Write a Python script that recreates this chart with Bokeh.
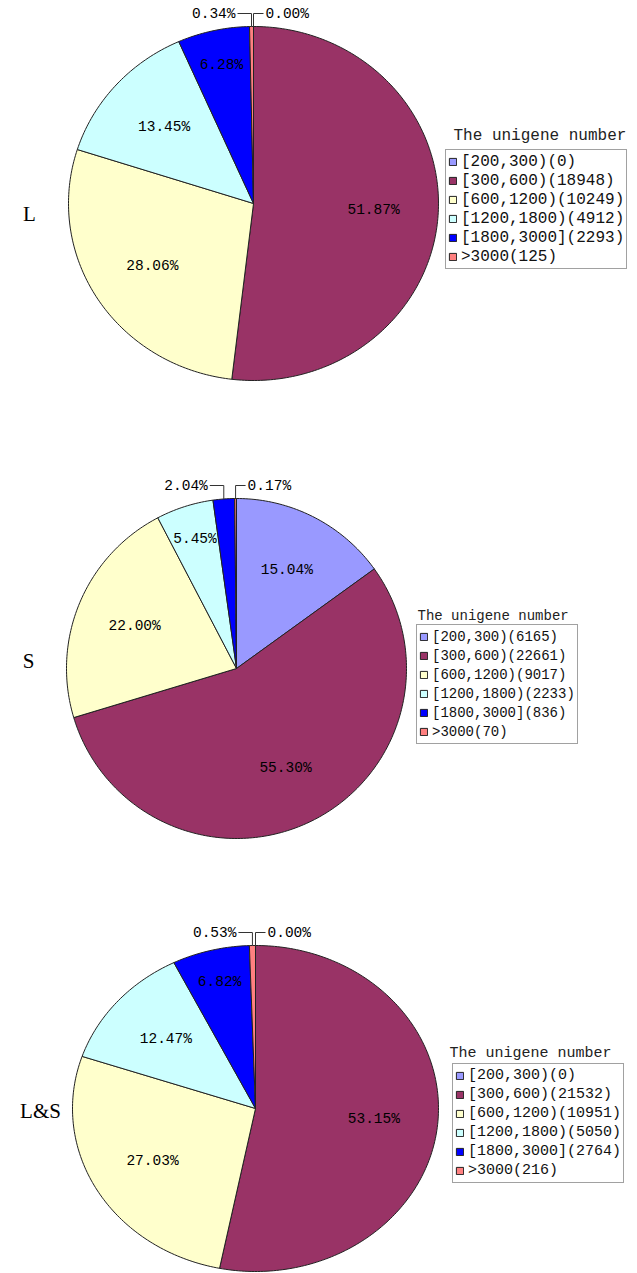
import numpy as np
from bokeh.plotting import figure
from bokeh.models import Range1d, Legend, LegendItem
from bokeh.embed import file_html
from bokeh.resources import INLINE
from bokeh.core.properties import value

# Unigene length bins and their counts per library
bins = ["[200,300)", "[300,600)", "[600,1200)", "[1200,1800)", "[1800,3000]", ">3000"]
colors = ["#9999FF", "#993366", "#FFFFCC", "#CCFFFF", "#0000FF", "#FF8080"]
counts_L = [0, 18948, 10249, 4912, 2293, 125]
counts_S = [6165, 22661, 9017, 2233, 836, 70]
counts_LS = [0, 21532, 10951, 5050, 2764, 216]
group_names = ["L", "S", "L&S"]
legend_title = "The unigene number"

W, H = 637, 1273
MONO = "Liberation Mono"
SERIF = "Liberation Serif"

# Layout of each panel: pie centre and radii, group label, legend box top-left, title, font size
panels = [
    dict(counts=counts_L, cx=253, cy=203, rx=185, ry=177, name_xy=(29, 213),
         leg_xy=(445, 151), title_xy=(453, 135), fs=16),
    dict(counts=counts_S, cx=236, cy=668, rx=170, ry=170, name_xy=(28, 660),
         leg_xy=(416, 626), title_xy=(417, 615), fs=14),
    dict(counts=counts_LS, cx=255, cy=1108, rx=183, ry=163, name_xy=(40, 1110),
         leg_xy=(452, 1065), title_xy=(449, 1053), fs=15),
]

p = figure(width=W, height=H, output_backend="svg", toolbar_location=None,
           x_range=Range1d(0, W), y_range=Range1d(H, 0),
           x_axis_location=None, y_axis_location=None, min_border=0)
p.grid.visible = False
p.outline_line_color = None
p.background_fill_color = "white"
p.border_fill_color = "white"

ROW_H = 19
PAD = 2
PCT_FS = "14.5px"

for name, pan in zip(group_names, panels):
    counts = np.array(pan["counts"], dtype=float)
    total = counts.sum()
    frac = counts / total
    ends = np.cumsum(frac) * 2 * np.pi
    starts = ends - frac * 2 * np.pi
    cx, cy, rx, ry = pan["cx"], pan["cy"], pan["rx"], pan["ry"]

    # elliptical slices, clockwise from 12 o'clock
    xs, ys = [], []
    for a0, a1 in zip(starts, ends):
        n = max(2, int(np.degrees(a1 - a0)) + 2)
        t = np.linspace(a0, a1, n)
        xs.append(np.concatenate([[cx], cx + rx * np.sin(t)]).tolist())
        ys.append(np.concatenate([[cy], cy - ry * np.cos(t)]).tolist())
    r = p.patches(xs, ys, fill_color=colors, line_color="#222222", line_width=1)

    pct = frac * 100
    labels = [f"{v:.2f}%" for v in pct]
    mids = (starts + ends) / 2

    # inside labels
    in_x, in_y, in_t = [], [], []
    out_idx = []
    for i in range(len(counts)):
        if pct[i] < 3:
            out_idx.append(i)
            continue
        f = 0.8 if pct[i] < 10 else 0.65
        in_x.append(cx + f * rx * np.sin(mids[i]))
        in_y.append(cy - f * ry * np.cos(mids[i]))
        in_t.append(labels[i])
    p.text(in_x, in_y, text=in_t, text_font=value(MONO), text_font_size=PCT_FS,
           text_align="center", text_baseline="middle", text_color="black")

    # outside labels with leader lines near the top of the pie
    wrapped = [(mids[i] - 2 * np.pi if mids[i] > np.pi else mids[i], i) for i in out_idx]
    wrapped.sort()
    ly = cy - ry - 13
    lines_x, lines_y = [], []
    for k, (w, i) in enumerate(wrapped):
        ax = cx + rx * np.sin(mids[i])
        ey = cy - ry * np.cos(mids[i])
        left = (k == 0 and len(wrapped) > 1) or (len(wrapped) == 1 and w < 0)
        if left:
            p.text([ax - 16], [ly], text=[labels[i]], text_font=value(MONO),
                   text_font_size=PCT_FS, text_align="right", text_baseline="middle")
            lines_x.append([ax - 14, ax, ax])
        else:
            p.text([ax + 12], [ly], text=[labels[i]], text_font=value(MONO),
                   text_font_size=PCT_FS, text_align="left", text_baseline="middle")
            lines_x.append([ax + 10, ax, ax])
        lines_y.append([ly, ly, ey])
    p.multi_line(lines_x, lines_y, line_color="#333333", line_width=1)

    # group name on the left
    p.text([pan["name_xy"][0]], [pan["name_xy"][1]], text=[name], text_font=value(SERIF),
           text_font_size="21px", text_align="center", text_baseline="middle")

    # legend title above the box
    p.text([pan["title_xy"][0]], [pan["title_xy"][1]], text=[legend_title],
           text_font=value(MONO), text_font_size=f"{pan['fs']}px",
           text_align="left", text_baseline="middle", text_color="#222222")

    items = [LegendItem(label=f"{b}({int(c)})", renderers=[r], index=i)
             for i, (b, c) in enumerate(zip(bins, counts))]
    box_h = ROW_H * len(items) + 2 * PAD
    lx, ltop = pan["leg_xy"]
    leg = Legend(items=items, location=(lx, H - ltop - box_h),
                 label_text_font=MONO, label_text_font_size=f"{pan['fs']}px",
                 label_height=ROW_H, glyph_height=9, glyph_width=9,
                 label_standoff=4, spacing=0, padding=PAD, margin=0,
                 border_line_color="#444444", border_line_width=1,
                 background_fill_color="white", background_fill_alpha=1.0,
                 label_text_color="#111111")
    p.add_layout(leg)

open("out.html", "w").write(file_html(p, INLINE))
